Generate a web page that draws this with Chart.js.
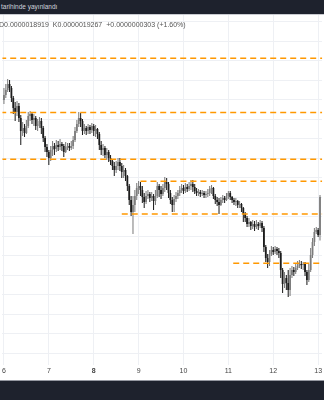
<!DOCTYPE html>
<html><head><meta charset="utf-8">
<script src="https://cdn.jsdelivr.net/npm/chart.js@4"></script>
<style>
html,body{margin:0;padding:0;width:324px;height:400px;overflow:hidden;background:#fff;font-family:'Liberation Sans',Arial,sans-serif;}
#hdr{position:absolute;left:0;top:0;width:324px;height:15px;background:#1e222d;border-bottom:1px solid #c9cbd1;box-sizing:border-box;}
#hdr span{position:absolute;left:1px;top:3px;font-size:6.5px;color:#d1d4dc;line-height:8px;white-space:nowrap;}
#ohlc{position:absolute;left:-1px;top:20px;font-size:7px;line-height:9px;color:#555;white-space:nowrap;z-index:2}
#ohlc span{margin-right:4px}
#wrap{position:absolute;left:0;top:15px;width:324px;height:365px;}
#ftr{position:absolute;left:0;top:380px;width:324px;height:20px;background:#1e222d;border-top:1px solid #9598a1;box-sizing:border-box;}
</style></head>
<body>
<div id="hdr"><span>tarihinde yayınlandı</span></div>
<div id="wrap"><canvas id="c"></canvas></div>
<div id="ohlc"><span>D0.0000018919</span><span>K0.0000019267</span><span>+0.0000000303 (+1.60%)</span></div>
<div id="ftr"></div>
<script>
// hourly candles, prices in units of 1e-10
const opens=[20043,20083,20123,20171,20139,20059,19979,19947,19995,19899,
19795,19819,19779,19835,19915,19931,19883,19899,19835,19851,
19875,19819,19739,19667,19627,19579,19643,19675,19651,19683,
19667,19691,19675,19627,19667,19675,19659,19675,19723,19795,
19851,19899,19875,19795,19819,19795,19827,19803,19835,19795,
19811,19771,19683,19643,19659,19603,19627,19579,19555,19515,
19483,19515,19547,19515,19467,19483,19435,19355,19243,19147,
19203,19275,19339,19355,19323,19267,19227,19275,19291,19259,
19275,19235,19275,19355,19323,19291,19339,19387,19371,19299,
19243,19203,19251,19275,19299,19323,19339,19315,19347,19331,
19355,19371,19347,19315,19299,19307,19291,19299,19283,19291,
19299,19331,19339,19275,19243,19227,19203,19243,19259,19243,
19275,19299,19267,19243,19227,19235,19203,19211,19179,19131,
19099,19051,19067,19035,19051,19027,19051,19035,19059,19019,
18867,18779,18747,18811,18843,18827,18851,18835,18819,18683,
18571,18619,18579,18523,18643,18683,18667,18699,18715,18731,
18723,18731,18667,18603,18683,18803,18907,18987,19003,18964];
const highs=[20139,20171,20211,20203,20155,20075,20027,20035,20019,19923,
19867,19851,19883,19947,19955,19939,19931,19915,19891,19907,
19899,19835,19755,19691,19643,19675,19715,19699,19723,19715,
19731,19707,19691,19707,19699,19699,19715,19755,19827,19883,
19947,19939,19891,19851,19835,19851,19843,19859,19851,19843,
19819,19787,19715,19691,19675,19659,19643,19603,19571,19547,
19555,19579,19579,19539,19523,19499,19443,19371,19275,19275,
19323,19379,19395,19387,19355,19299,19315,19323,19307,19307,
19291,19323,19387,19371,19355,19371,19427,19419,19387,19323,
19267,19283,19307,19323,19355,19371,19363,19379,19371,19387,
19403,19403,19371,19339,19331,19323,19323,19315,19315,19331,
19355,19363,19347,19291,19267,19259,19267,19283,19275,19299,
19315,19315,19275,19259,19259,19243,19235,19219,19187,19147,
19115,19099,19075,19083,19075,19083,19067,19083,19075,19035,
18883,18811,18843,18875,18867,18875,18867,18859,18835,18699,
18667,18643,18683,18699,18715,18707,18731,18755,18763,18755,
18747,18747,18683,18731,18859,18939,19019,19027,19019,19283];
const lows=[20011,20059,20107,20107,20027,19931,19875,19915,19867,19683,
19755,19747,19771,19819,19875,19851,19835,19803,19795,19819,
19771,19707,19627,19587,19523,19555,19595,19603,19627,19635,
19643,19635,19587,19619,19643,19635,19643,19651,19707,19779,
19827,19827,19763,19771,19763,19771,19771,19779,19755,19747,
19731,19643,19603,19595,19579,19563,19547,19523,19483,19435,
19459,19483,19475,19419,19419,19395,19315,19203,19115,18971,
19147,19243,19291,19275,19219,19179,19211,19251,19227,19235,
19163,19203,19259,19267,19251,19275,19307,19323,19259,19211,
19147,19147,19227,19251,19275,19299,19291,19299,19307,19315,
19323,19307,19291,19275,19275,19267,19275,19259,19259,19267,
19275,19291,19251,19211,19195,19131,19195,19219,19219,19235,
19251,19243,19219,19203,19195,19179,19179,19147,19067,19067,
19027,19027,19003,19011,18995,19011,19003,19019,18987,18827,
18747,18699,18715,18795,18803,18811,18803,18779,18619,18499,
18539,18523,18467,18475,18619,18635,18651,18683,18699,18691,
18683,18635,18563,18587,18667,18779,18875,18971,18947,18919];
const closes=[20083,20123,20171,20139,20059,19979,19947,19995,19899,19795,
19819,19779,19835,19915,19931,19883,19899,19835,19851,19875,
19819,19739,19667,19627,19579,19643,19675,19651,19683,19667,
19691,19675,19627,19667,19675,19659,19675,19723,19795,19851,
19899,19875,19795,19819,19795,19827,19803,19835,19795,19811,
19771,19683,19643,19659,19603,19627,19579,19555,19515,19483,
19515,19547,19515,19467,19483,19435,19355,19243,19147,19203,
19275,19339,19355,19323,19267,19227,19275,19291,19259,19275,
19235,19275,19355,19323,19291,19339,19387,19371,19299,19243,
19203,19251,19275,19299,19323,19339,19315,19347,19331,19355,
19371,19347,19315,19299,19307,19291,19299,19283,19291,19299,
19331,19339,19275,19243,19227,19203,19243,19259,19243,19275,
19299,19267,19243,19227,19235,19203,19211,19179,19131,19099,
19051,19067,19035,19051,19027,19051,19035,19059,19019,18867,
18779,18747,18811,18843,18827,18851,18835,18819,18683,18571,
18619,18579,18523,18643,18683,18667,18699,18715,18731,18723,
18731,18667,18603,18683,18803,18907,18987,19003,18964,19267];
const dayLabels=['6','7','8','9','10','11','12','13'];
const dayTickHours=[0,24,48,72,96,120,144,168];
const levelPrices=[20377,19943,19569,19393,19131,18737];
const levelStartHours=[-2,-2,-2,73,63,122.6];

const FONT="'Liberation Sans', Arial, sans-serif";
const upColor='#7c7c7c', downColor='#1c1c1c';
const candleColors=closes.map((c,i)=>c>=opens[i]?upColor:downColor);
const wickData=highs.map((h,i)=>({x:i,y:[lows[i],h]}));
const bodyData=closes.map((c,i)=>({x:i,y:[Math.min(opens[i],c),Math.max(opens[i],c)]}));
const levelSets=levelPrices.map((p,k)=>({type:'line',data:[{x:levelStartHours[k],y:p},{x:172,y:p}],
  borderColor:'#ff9800',borderWidth:1.4,borderDash:[6,4],pointRadius:0,fill:false,order:0}));
const gridAnchor=19267, gridStep=156;

new Chart(document.getElementById('c'),{
  type:'bar',
  data:{datasets:[
    ...levelSets,
    {type:'bar',data:bodyData,backgroundColor:candleColors,grouped:false,barPercentage:0.95,categoryPercentage:1,minBarLength:1,order:1},
    {type:'bar',data:wickData,backgroundColor:candleColors,grouped:false,barPercentage:0.55,categoryPercentage:1,order:2}
  ]},
  options:{
    animation:false,responsive:true,maintainAspectRatio:false,
    layout:{padding:0},
    plugins:{legend:{display:false},tooltip:{enabled:false}},
    scales:{
      x:{type:'linear',min:-0.79,max:170.1,offset:false,
        afterBuildTicks:s=>{s.ticks=dayTickHours.map(v=>({value:v}));},
        afterFit:s=>{s.height=15;},
        ticks:{autoSkip:false,maxRotation:0,padding:2,color:'#444',
          font:ctx=>({family:FONT,size:7,weight:(ctx.tick&&ctx.tick.value===48)?'bold':'normal'}),
          callback:v=>dayLabels[dayTickHours.indexOf(v)]},
        grid:{color:'#eef0f4',drawTicks:false,offset:false},border:{display:false}},
      y:{type:'linear',min:17923,max:20723,
        afterBuildTicks:s=>{const t=[];let v=gridAnchor+Math.ceil((s.min-gridAnchor)/gridStep)*gridStep;for(;v<=s.max;v+=gridStep)t.push({value:v});s.ticks=t;},
        afterFit:s=>{s.width=0;},
        ticks:{display:false},
        grid:{color:'#eef0f4',drawTicks:false},border:{display:false}}
    }
  }
});
</script>
</body></html>
